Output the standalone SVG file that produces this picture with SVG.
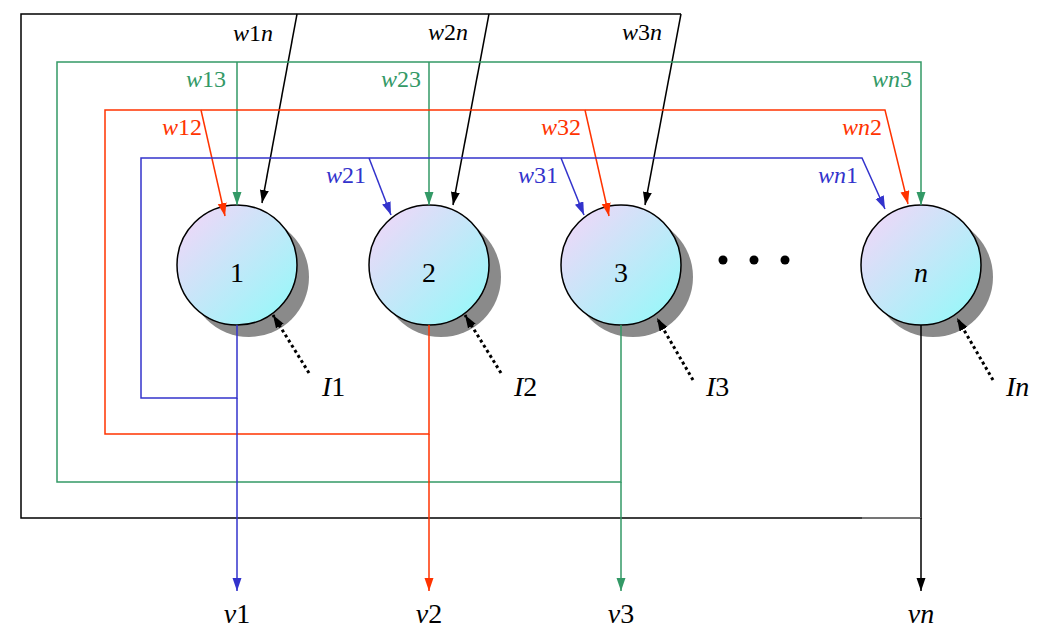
<svg xmlns="http://www.w3.org/2000/svg" width="1047" height="639" viewBox="0 0 1047 639">
<style>
text{font-family:"Liberation Serif","Times New Roman",serif}
.lbl{font-size:24px}
.big{font-size:28px}
.i{font-style:italic}
.blue{stroke:#3333cc;fill:none;stroke-width:1.5}
.red{stroke:#ff3300;fill:none;stroke-width:1.5}
.green{stroke:#339966;fill:none;stroke-width:1.5}
.black{stroke:#000;fill:none;stroke-width:1.5}
.dot{stroke:#000;fill:none;stroke-width:3;stroke-dasharray:3 3}
.nc{stroke:#000;stroke-width:1.5;fill:url(#g)}
.sh{fill:#8a8a8a}
</style>
<defs>
<linearGradient id="g" x1="0" y1="0" x2="1" y2="1">
<stop offset="0" stop-color="#f7d4f8"/>
<stop offset="1" stop-color="#8ffbf9"/>
</linearGradient>
<marker id="aB" markerUnits="userSpaceOnUse" markerWidth="14" markerHeight="10" refX="13" refY="4.5" orient="auto"><path d="M0,0 L13,4.5 L0,9 z" fill="#3333cc"/></marker>
<marker id="aR" markerUnits="userSpaceOnUse" markerWidth="14" markerHeight="10" refX="13" refY="4.5" orient="auto"><path d="M0,0 L13,4.5 L0,9 z" fill="#ff3300"/></marker>
<marker id="aG" markerUnits="userSpaceOnUse" markerWidth="14" markerHeight="10" refX="13" refY="4.5" orient="auto"><path d="M0,0 L13,4.5 L0,9 z" fill="#339966"/></marker>
<marker id="aK" markerUnits="userSpaceOnUse" markerWidth="14" markerHeight="10" refX="13" refY="4.5" orient="auto"><path d="M0,0 L13,4.5 L0,9 z" fill="#000"/></marker>
</defs>
<rect width="1047" height="639" fill="#fff"/>

<g id="node1">
<circle class="sh" cx="249" cy="277" r="60"/>
<circle class="nc" cx="237" cy="265" r="60"/>
<text class="big" x="237" y="282" text-anchor="middle">1</text>
<text class="big" x="322" y="396"><tspan class="i">I</tspan>1</text>
</g>
<g id="node2">
<circle class="sh" cx="441" cy="277" r="60"/>
<circle class="nc" cx="429" cy="265" r="60"/>
<text class="big" x="429" y="282" text-anchor="middle">2</text>
<text class="big" x="514" y="396"><tspan class="i">I</tspan>2</text>
</g>
<g id="node3">
<circle class="sh" cx="633" cy="277" r="60"/>
<circle class="nc" cx="621" cy="265" r="60"/>
<text class="big" x="621" y="282" text-anchor="middle">3</text>
<text class="big" x="706" y="396"><tspan class="i">I</tspan>3</text>
</g>
<g id="dots">
<circle cx="723" cy="260" r="4.5"/>
<circle cx="754" cy="260" r="4.5"/>
<circle cx="785" cy="260" r="4.5"/>
</g>
<g id="noden">
<circle class="sh" cx="933" cy="277" r="60"/>
<circle class="nc" cx="921" cy="265" r="60"/>
<text class="big i" x="921" y="282" text-anchor="middle">n</text>
<text class="big i" x="1006" y="396">In</text>
</g>

<g id="connectors">
<!-- black (from n) -->
<path class="black" d="M921,325 V518 H21 V14 H681"/>
<line x1="862" y1="518" x2="921" y2="518" stroke="#888" stroke-width="1.5"/>
<line class="black" x1="297" y1="14" x2="262" y2="203" marker-end="url(#aK)"/>
<line class="black" x1="489" y1="14" x2="453" y2="205" marker-end="url(#aK)"/>
<line class="black" x1="681" y1="14" x2="645" y2="205" marker-end="url(#aK)"/>
<line class="black" x1="921" y1="518" x2="921" y2="591" marker-end="url(#aK)"/>
<!-- green (from 3) -->
<path class="green" d="M621,325 V482 H57 V62 H921 V205" marker-end="url(#aG)"/>
<line class="green" x1="237" y1="62" x2="237" y2="205" marker-end="url(#aG)"/>
<line class="green" x1="429" y1="62" x2="429" y2="205" marker-end="url(#aG)"/>
<line class="green" x1="621" y1="482" x2="621" y2="591" marker-end="url(#aG)"/>
<!-- red (from 2) -->
<path class="red" d="M429,325 V434 H105 V110 H885 L908,204" marker-end="url(#aR)"/>
<line class="red" x1="201" y1="110" x2="225" y2="216" marker-end="url(#aR)"/>
<line class="red" x1="585" y1="110" x2="609" y2="216" marker-end="url(#aR)"/>
<line class="red" x1="429" y1="434" x2="429" y2="591" marker-end="url(#aR)"/>
<!-- blue (from 1) -->
<path class="blue" d="M237,325 V398 H141 V158 H862 L885,209" marker-end="url(#aB)"/>
<line class="blue" x1="369" y1="158" x2="391" y2="215" marker-end="url(#aB)"/>
<line class="blue" x1="561" y1="158" x2="584" y2="215" marker-end="url(#aB)"/>
<line class="blue" x1="237" y1="398" x2="237" y2="591" marker-end="url(#aB)"/>
<!-- external inputs -->
<line class="dot" x1="309" y1="373" x2="273" y2="315" marker-end="url(#aK)"/>
<line class="dot" x1="501" y1="373" x2="465" y2="315" marker-end="url(#aK)"/>
<line class="dot" x1="693" y1="380" x2="657" y2="318" marker-end="url(#aK)"/>
<line class="dot" x1="993" y1="380" x2="957" y2="318" marker-end="url(#aK)"/>
</g>

<g id="weight-labels" class="lbl">
<text x="273" y="41" text-anchor="end"><tspan class="i">w</tspan>1<tspan class="i">n</tspan></text>
<text x="468" y="40" text-anchor="end"><tspan class="i">w</tspan>2<tspan class="i">n</tspan></text>
<text x="662" y="40" text-anchor="end"><tspan class="i">w</tspan>3<tspan class="i">n</tspan></text>
<text x="226" y="87" text-anchor="end" fill="#339966"><tspan class="i">w</tspan>13</text>
<text x="421" y="87" text-anchor="end" fill="#339966"><tspan class="i">w</tspan>23</text>
<text x="912" y="87" text-anchor="end" fill="#339966"><tspan class="i">wn</tspan>3</text>
<text x="202" y="135" text-anchor="end" fill="#ff3300"><tspan class="i">w</tspan>12</text>
<text x="581" y="135" text-anchor="end" fill="#ff3300"><tspan class="i">w</tspan>32</text>
<text x="882" y="135" text-anchor="end" fill="#ff3300"><tspan class="i">wn</tspan>2</text>
<text x="366" y="183" text-anchor="end" fill="#3333cc"><tspan class="i">w</tspan>21</text>
<text x="558" y="183" text-anchor="end" fill="#3333cc"><tspan class="i">w</tspan>31</text>
<text x="858" y="183" text-anchor="end" fill="#3333cc"><tspan class="i">wn</tspan>1</text>
</g>

<g id="outputs" class="big">
<text x="237" y="623" text-anchor="middle"><tspan class="i">v</tspan>1</text>
<text x="429" y="623" text-anchor="middle"><tspan class="i">v</tspan>2</text>
<text x="621" y="623" text-anchor="middle"><tspan class="i">v</tspan>3</text>
<text x="921" y="623" text-anchor="middle" class="i">vn</text>
</g>
</svg>
